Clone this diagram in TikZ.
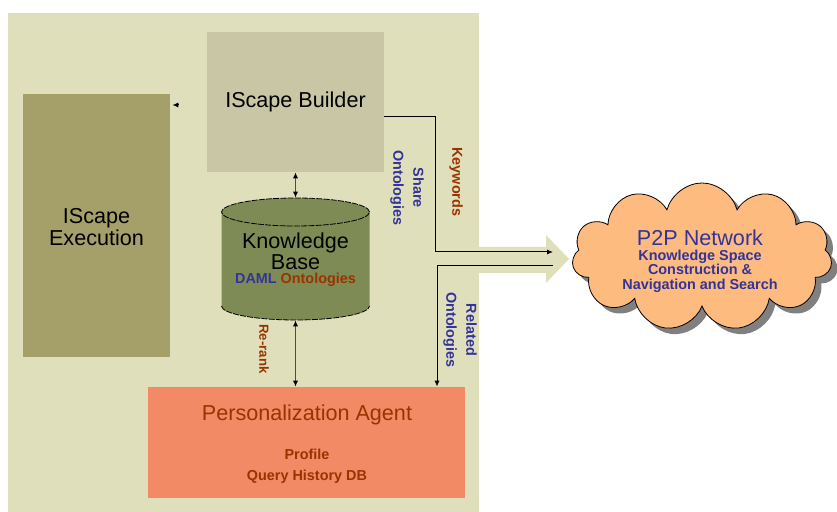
\documentclass[tikz,border=0pt]{standalone}
\usepackage{fontspec}
\setmainfont{Liberation Sans}
\usetikzlibrary{positioning,shapes.symbols,shadows,arrows.meta}

\definecolor{panelfill}{HTML}{DFDFBB}
\definecolor{builderfill}{HTML}{C8C6A5}
\definecolor{execfill}{HTML}{A59F69}
\definecolor{kbfill}{HTML}{7F8B55}
\definecolor{agentfill}{HTML}{F28A66}
\definecolor{cloudfill}{HTML}{FDBB80}
\definecolor{ppblue}{HTML}{333399}
\definecolor{ppbrown}{HTML}{993300}

\begin{document}
\begin{tikzpicture}[x=0.5pt,y=-0.5pt,
		bigtext/.style={font=\fontsize{10.8}{10.5}\selectfont, align=center, inner sep=0pt},
		tagtext/.style={font=\bfseries\fontsize{7.2}{10}\selectfont, align=center, inner sep=0pt},
		block/.style={draw=none, inner sep=0pt},
		kbedge/.style={draw=black, line width=0.4pt, dash pattern=on 3pt off 0.6pt},
		tip/.style={line width=0.5pt, -{Latex[length=3pt,width=2.6pt]}},
		dbl/.style={line width=0.5pt, draw=black!70, {Latex[length=3pt,width=2.6pt,black]}-{Latex[length=3pt,width=2.6pt,black]}}]
			\useasboundingbox (0,0) rectangle (837,512);
			
			% panel and the block arrow leaving it
			\fill[panelfill] (8,13) rectangle (479,512);
			\fill[panelfill] (478,247) -- (546,247) -- (546,235) -- (569,259) -- (546,283) -- (546,273) -- (478,273) -- cycle;
			
			\node[block, fill=builderfill, minimum width=88.5pt, minimum height=70pt] (builder) at (295.5,102) {};
			\node[bigtext] (buildertxt) at (builder.center) {IScape Builder};
			
			\node[block, fill=execfill, minimum width=73.5pt, minimum height=131.5pt] (exec) at (96.5,225.5) {};
			\node[bigtext, font=\fontsize{10.8}{9.5}\selectfont] (exectxt) at (96.5,227) {IScape\\Execution};
			
			% knowledge base drum
			\fill[kbfill] (221.5,212) -- (221.5,306) arc[start angle=180, end angle=360, x radius=37pt, y radius=7pt] -- (369.5,212) arc[start angle=0, end angle=180, x radius=37pt, y radius=7pt] -- cycle;
			\draw[kbedge] (295.5,212) ellipse[x radius=37pt, y radius=7pt];
			\draw[kbedge] (221.5,306) arc[start angle=180, end angle=360, x radius=37pt, y radius=7pt];
			\node[block, minimum width=74pt, minimum height=61pt] (kb) at (295.5,259) {};
			\node[bigtext] (kbtxt) at (295.5,251) {Knowledge\\Base};
			\node[tagtext] (kbsub) at (295.5,280) {\textcolor{ppblue}{DAML} \textcolor{ppbrown}{Ontologies}};
			
			\node[block, fill=agentfill, minimum width=158.5pt, minimum height=55.5pt] (agent) at (306.5,442.5) {};
			\node[bigtext, text=ppbrown] (agenttxt) at (307,415) {Personalization Agent};
			\node[tagtext, text=ppbrown] (profile) at (307,454) {Profile};
			\node[tagtext, text=ppbrown] (history) at (307,477) {Query History DB};
			
			\node[cloud, cloud puffs=11, aspect=1.75, minimum width=130pt, minimum height=74pt, draw=black, line width=0.4pt, fill=cloudfill, drop shadow={shadow xshift=3pt, shadow yshift=-3pt, fill=black!50, opacity=1}] (p2p) at (702,257) {};
			\node[bigtext, text=ppblue] (p2ptxt) at (700,238) {P2P Network};
			\node[tagtext, text=ppblue, font=\bfseries\fontsize{7.2}{7.3}\selectfont] (p2psub) at (700,271) {Knowledge Space\\Construction \&\\Navigation and Search};
			
			% connectors
			\coordinate (tiptail) at (178,105);
			\draw[tip, shorten >=1pt] (tiptail) -- (exec.east |- tiptail);
			\draw[dbl] (builder.south) -- (kb.north);
			\draw[dbl] (kb.south) -- (kb.south |- agent.north);
			
			\coordinate (kwturn) at (435,117);
			\coordinate (kwend) at (553,252);
			\draw[tip] (builder.east |- kwturn) -- (kwturn) |- (kwend);
			\coordinate (relstart) at (553,266);
			\coordinate (relturn) at (437,266);
			\draw[tip] (relstart) -- (relturn) -- (relturn |- agent.north);
			
			\node[tagtext, text=ppblue, rotate=-90] (sharelbl) at (407,188) {Share\\Ontologies};
			\node[tagtext, text=ppbrown, rotate=-90] (kwlbl) at (456,182) {Keywords};
			\node[tagtext, text=ppblue, rotate=-90] (rellbl) at (460,330) {Related\\Ontologies};
			\node[tagtext, text=ppbrown, font=\bfseries\fontsize{6.6}{8}\selectfont, rotate=-90] (reranklbl) at (264,349) {Re-rank};
\end{tikzpicture}
\end{document}
